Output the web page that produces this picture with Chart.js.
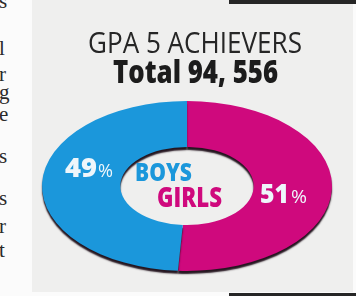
<!DOCTYPE html>
<html>
<head>
<meta charset="utf-8">
<script src="https://cdn.jsdelivr.net/npm/chart.js@4.4.1/dist/chart.umd.min.js"></script>
<style>
  html, body { margin: 0; padding: 0; background: #fbfbfb; }
  #wrap { position: relative; width: 356px; height: 296px; overflow: hidden; }
  #panel { position: absolute; left: 32px; top: 0; width: 321px; height: 292px; background: #efefee; }
  .dark { position: absolute; background: #262626; }
  .margin-txt { position: absolute; font-family: "Liberation Serif", "DejaVu Serif", serif; font-size: 21px; color: #2a2a2a; line-height: 1; }
  canvas { position: absolute; left: 0; top: 0; }
</style>
</head>
<body>
<div id="wrap">
  <div id="panel"></div>
  <div class="dark" style="left:229px;top:0;width:127px;height:4px;"></div>
  <div class="dark" style="left:229px;top:293px;width:127px;height:3px;"></div>
  <div id="margin"></div>
  <canvas id="c" width="356" height="296"></canvas>
</div>
<script>
// ---- data ----
const categories = ['GIRLS', 'BOYS'];
const shares = [51, 49];
const seriesColors = ['#cf097d', '#1b97db'];
const titleLine1 = 'GPA 5 ACHIEVERS';
const titleLine2 = 'Total 94, 556';
const marginLetters = ['s', 'l', 'r', 'g', 'e', 's', 's', 'r', 't'];
const marginTops = [-9, 38, 64, 82, 104, 146, 188, 216, 240];

// margin fragments of neighbouring column text
const m = document.getElementById('margin');
marginLetters.forEach((ch, i) => {
  const s = document.createElement('span');
  s.className = 'margin-txt';
  s.textContent = ch;
  s.style.left = '-1px';
  s.style.top = marginTops[i] + 'px';
  m.appendChild(s);
});

const K = 85 / 145; // vertical squash of the ring

function fitText(ctx, text, x, baseline, width, font, color) {
  ctx.save();
  ctx.font = font;
  ctx.fillStyle = color;
  ctx.textBaseline = 'alphabetic';
  ctx.textAlign = 'left';
  const w = ctx.measureText(text).width;
  ctx.translate(x, baseline);
  ctx.scale(width / w, 1);
  ctx.fillText(text, 0, 0);
  ctx.restore();
}

const ellipsePlugin = {
  id: 'ellipse',
  beforeDatasetsDraw(chart) {
    const ctx = chart.ctx;
    const a = chart.chartArea;
    const cx = (a.left + a.right) / 2, cy = (a.top + a.bottom) / 2;
    ctx.save();
    ctx.translate(cx, cy);
    ctx.scale(1, K);
    ctx.translate(-cx, -cy);
    ctx.shadowColor = 'rgba(25,10,20,0.95)';
    ctx.shadowOffsetY = 3;
    ctx.shadowBlur = 1.5;
  },
  afterDatasetsDraw(chart) {
    chart.ctx.restore();
  },
  afterDraw(chart) {
    const ctx = chart.ctx;
    fitText(ctx, titleLine1, 88, 53, 214, '400 29px "Open Sans"', '#262626');
    fitText(ctx, titleLine2, 113, 83, 165, '800 32px "Open Sans"', '#1c1c1c');
    const white = '#eef6fb';
    const boys = categories.indexOf('BOYS');
    const girls = categories.indexOf('GIRLS');
    // left label (boys)
    fitText(ctx, String(shares[boys]), 65, 177, 32, '800 27px "Open Sans"', white);
    fitText(ctx, '%', 98, 177, 15, '400 19px "Open Sans"', white);
    // right label (girls)
    fitText(ctx, String(shares[girls]), 260, 203, 29, '800 26px "Open Sans"', white);
    fitText(ctx, '%', 291, 203, 16, '400 19px "Open Sans"', white);
    // centre labels
    fitText(ctx, categories[boys], 135, 181, 57, '800 25px "Open Sans"', seriesColors[boys]);
    fitText(ctx, categories[girls], 157, 207, 65, '800 28px "Open Sans"', seriesColors[girls]);
  }
};

new Chart(document.getElementById('c'), {
  type: 'doughnut',
  data: {
    labels: categories,
    datasets: [{
      data: shares,
      backgroundColor: seriesColors,
      borderWidth: 0,
      radius: 145,
      cutout: '46%',
      clip: false
    }]
  },
  options: {
    responsive: false,
    animation: false,
    devicePixelRatio: 1,
    events: [],
    layout: { padding: { left: 18, right: 0, top: 76, bottom: 0 } },
    plugins: { legend: { display: false }, tooltip: { enabled: false } }
  },
  plugins: [ellipsePlugin]
});
</script>
</body>
</html>
